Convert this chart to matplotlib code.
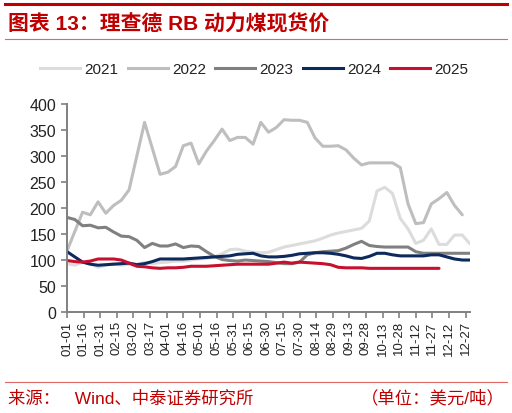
import numpy as np
import matplotlib
matplotlib.use("Agg")
import matplotlib.pyplot as plt
from matplotlib.lines import Line2D

plt.rcParams['font.family'] = ['Liberation Sans', 'Noto Sans CJK SC', 'DejaVu Sans']

# 周度数据, 按一年中的第几天 (0 = 01-01)
days = np.arange(0, 365, 7)
nan = np.nan

p2021 = [93, 90, 96, 93, 86, 90, 93, 90, 92, 92,
         95, 93, 95, 96, 98, 98, 100, 102, 103, 106,
         112, 120, 121, 117, 115, 114, 115, 120, 125, 128,
         131, 134, 137, 142, 148, 152, 155, 158, 161, 175,
         233, 240, 228, 180, 160, 132, 138, 160, 130, 130,
         148, 148, 131]
p2022 = [118, 155, 192, 187, 212, 190, 205, 215, 235, 300,
         365, 315, 265, 269, 280, 320, 325, 285, 310, 330,
         352, 330, 336, 336, 323, 365, 346, 355, 370, 369,
         369, 365, 335, 319, 319, 320, 312, 296, 283, 287,
         287, 287, 287, 278, 208, 170, 172, 208, 218, 230,
         205, 187, nan]
p2023 = [182, 178, 166, 167, 162, 163, 154, 146, 145, 138,
         124, 132, 127, 127, 131, 124, 127, 126, 116, 107,
         101, 99, 98, 100, 99, 98, 97, 95, 93, 93,
         96, 110, 114, 116, 117, 118, 123, 130, 136, 128,
         126, 125, 125, 125, 125, 116, 113, 113, 113, 113,
         113, 113, 113]
p2024 = [116, 106, 96, 92, 90, 91, 92, 93, 94, 91,
         93, 97, 102, 102, 102, 102, 103, 104, 105, 106,
         107, 108, 111, 112, 113, 108, 106, 106, 107, 109,
         112, 113, 114, 114, 113, 111, 108, 104, 103, 107,
         113, 113, 110, 108, 108, 108, 108, 110, 110, 106,
         102, 100, 100]
p2025 = [99, 97, 96, 98, 102, 102, 102, 100, 94, 88,
         87, 85, 84, 85, 85, 86, 88, 88, 88, 89,
         90, 91, 92, 92, 92, 92, 92, 94, 96, 94,
         96, 95, 94, 93, 91, 86, 85, 85, 85, 84,
         84, 84, 84, 84, 84, 84, 84, 84, 84, nan,
         nan, nan, nan]

years = ['2021', '2022', '2023', '2024', '2025']
colors = ['#DCDCDC', '#BEBEBE', '#808080', '#0C2A5C', '#C8102E']
series = [p2021, p2022, p2023, p2024, p2025]

tick_days = np.arange(0, 361, 15)
tick_labels = ['01-01', '01-16', '01-31', '02-15', '03-02', '03-17', '04-01',
               '04-16', '05-01', '05-16', '05-31', '06-15', '06-30', '07-15',
               '07-30', '08-14', '08-29', '09-13', '09-28', '10-13', '10-28',
               '11-12', '11-27', '12-12', '12-27']

red = '#C00000'

fig = plt.figure(figsize=(5.12, 4.14), dpi=100)
ax = fig.add_axes([0.131, 0.244, 0.787, 0.502])

for y, c, v in zip(years, colors, series):
    ax.plot(days, v, color=c, lw=2.2, label=y, solid_capstyle='round')

ax.set_xlim(0, 364)
ax.set_ylim(0, 400)
ax.set_yticks(np.arange(0, 401, 50))
ax.set_xticks(tick_days)
ax.set_xticklabels(tick_labels, rotation=90, fontsize=9.5, color='#222222')
ax.tick_params(axis='y', labelsize=11.5, labelcolor='#222222', length=4,
               width=1.2, color='#808080', direction='out', pad=4)
ax.tick_params(axis='x', length=4, width=1.2, color='#808080', direction='out', pad=2)
for s in ['top', 'right']:
    ax.spines[s].set_visible(False)
for s in ['left', 'bottom']:
    ax.spines[s].set_color('#808080')
    ax.spines[s].set_linewidth(1.4)

handles = [Line2D([], [], color=c, lw=2.2) for c in colors]
fig.legend(handles, years, loc='center', bbox_to_anchor=(0.497, 0.831), ncol=5,
           frameon=False, fontsize=11, handlelength=2.6, handletextpad=0.3,
           columnspacing=0.6, labelcolor='#222222')

# 标题和页脚
fig.add_artist(Line2D([0.01, 0.99], [0.988, 0.988], color=red, lw=2.2))
fig.text(0.016, 0.94, '图表 13：理查德 RB 动力煤现货价', color=red, fontsize=15,
         fontweight='bold', va='center', ha='left')
fig.add_artist(Line2D([0.01, 0.99], [0.903, 0.903], color='#E06666', lw=0.8))
fig.add_artist(Line2D([0.01, 0.99], [0.075, 0.075], color='#E06666', lw=0.8))
fig.text(0.016, 0.038, '来源：   Wind、中泰证券研究所', color=red, fontsize=12.5,
         va='center', ha='left')
fig.text(0.985, 0.038, '（单位：美元/吨）', color=red, fontsize=12.5,
         va='center', ha='right')

fig.savefig('out.png', dpi=100)
